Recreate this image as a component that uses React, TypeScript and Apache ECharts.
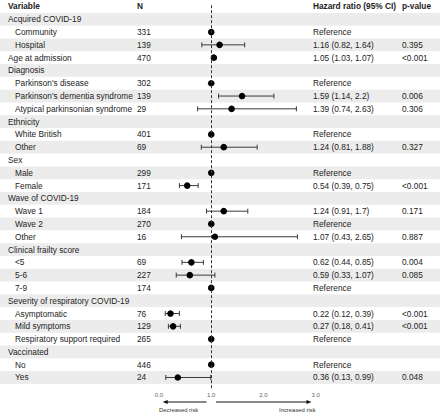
import React, { useEffect, useRef } from "react";
import * as echarts from "echarts";

const headers = ["Variable", "N", "Hazard ratio (95% CI)", "p-value"];
const labels = [
  "Acquired COVID-19", "Community", "Hospital", "Age at admission",
  "Diagnosis", "Parkinson's disease", "Parkinson's dementia syndrome", "Atypical parkinsonian syndrome",
  "Ethnicity", "White British", "Other",
  "Sex", "Male", "Female",
  "Wave of COVID-19", "Wave 1", "Wave 2", "Other",
  "Clinical frailty score", "<5", "5-6", "7-9",
  "Severity of respiratory COVID-19", "Asymptomatic", "Mild symptoms", "Respiratory support required",
  "Vaccinated", "No", "Yes",
];
const indented = [
  false, true, true, false,
  false, true, true, true,
  false, true, true,
  false, true, true,
  false, true, true, true,
  false, true, true, true,
  false, true, true, true,
  false, true, true,
];
const nValues = [
  null, 331, 139, 470,
  null, 302, 139, 29,
  null, 401, 69,
  null, 299, 171,
  null, 184, 270, 16,
  null, 69, 227, 174,
  null, 76, 129, 265,
  null, 446, 24,
];
const hr = [
  null, 1, 1.16, 1.05,
  null, 1, 1.59, 1.39,
  null, 1, 1.24,
  null, 1, 0.54,
  null, 1.24, 1, 1.07,
  null, 0.62, 0.59, 1,
  null, 0.22, 0.27, 1,
  null, 1, 0.36,
];
const lower = [
  null, null, 0.82, 1.03,
  null, null, 1.14, 0.74,
  null, null, 0.81,
  null, null, 0.39,
  null, 0.91, null, 0.43,
  null, 0.44, 0.33, null,
  null, 0.12, 0.18, null,
  null, null, 0.13,
];
const upper = [
  null, null, 1.64, 1.07,
  null, null, 2.2, 2.63,
  null, null, 1.88,
  null, null, 0.75,
  null, 1.7, null, 2.65,
  null, 0.85, 1.07, null,
  null, 0.39, 0.41, null,
  null, null, 0.99,
];
const hrText = [
  "", "Reference", "1.16 (0.82, 1.64)", "1.05 (1.03, 1.07)",
  "", "Reference", "1.59 (1.14, 2.2)", "1.39 (0.74, 2.63)",
  "", "Reference", "1.24 (0.81, 1.88)",
  "", "Reference", "0.54 (0.39, 0.75)",
  "", "1.24 (0.91, 1.7)", "Reference", "1.07 (0.43, 2.65)",
  "", "0.62 (0.44, 0.85)", "0.59 (0.33, 1.07)", "Reference",
  "", "0.22 (0.12, 0.39)", "0.27 (0.18, 0.41)", "Reference",
  "", "Reference", "0.36 (0.13, 0.99)",
];
const pText = [
  "", "", "0.395", "<0.001",
  "", "", "0.006", "0.306",
  "", "", "0.327",
  "", "", "<0.001",
  "", "0.171", "", "0.887",
  "", "0.004", "0.085", "",
  "", "<0.001", "<0.001", "",
  "", "", "0.048",
];
const xTicks = [0, 1, 2, 3];
const arrowLabels = ["Decreased risk", "Increased risk"];

const FONT = "'Liberation Sans', Arial, Helvetica, sans-serif";
const FS = 8.3;
const TXT = "#1c1c1c";
const COL_X = [8, 137, 313, 402];
const INDENT_X = 15;

export default function App() {
  const ref = useRef<HTMLDivElement>(null);
  useEffect(() => {
    if (!ref.current) return;
    const chart = echarts.init(ref.current, null, { renderer: "svg" });
    const rows = labels.map((_, i) => [hr[i] ?? 1, i]);

    const text = (x: number, y: number, t: string, bold = false, align = "left") => ({
      type: "text",
      style: {
        x, y, text: t, fill: TXT, fontSize: FS, fontFamily: FONT,
        fontWeight: bold ? "bold" : "normal", align, verticalAlign: "middle",
      },
      silent: true,
    });

    const option: any = {
      animation: false,
      grid: { left: 159, right: 124.3, top: 5.2, bottom: 26, containLabel: false },
      xAxis: {
        type: "value", min: 0, max: 3, interval: 1,
        axisLine: { show: true, lineStyle: { color: "#333", width: 1 } },
        axisTick: { show: true, length: 2.5, lineStyle: { color: "#333" } },
        axisLabel: {
          show: true, fontSize: 6, color: "#666", fontFamily: FONT, margin: 3,
          formatter: (v: number) => (xTicks.includes(v) ? v.toFixed(1) : ""),
        },
        splitLine: { show: false },
      },
      yAxis: { type: "value", inverse: true, min: -1.1, max: 28.9, show: false },
      series: [
        {
          type: "custom", z: 1, data: rows, clip: false, silent: true,
          renderItem: (params: any, api: any) => {
            const i = api.value(1);
            if (i % 2 !== 0) return { type: "group", children: [] };
            const y = api.coord([0, i])[1];
            const h = api.size([0, 1])[1];
            return {
              type: "rect",
              shape: { x: 0, y: y - h / 2, width: 440, height: h },
              style: { fill: "#ececec" },
              silent: true,
            };
          },
        },
        {
          type: "line", z: 2, data: [], silent: true,
          markLine: {
            silent: true, symbol: "none", label: { show: false },
            lineStyle: { type: [3, 2], color: "#333", width: 1 },
            data: [{ xAxis: 1 }],
          },
        },
        {
          type: "custom", z: 3, data: rows, clip: false, silent: true,
          renderItem: (params: any, api: any) => {
            const i = api.value(1);
            const y = api.coord([0, i])[1];
            const ch: any[] = [];
            ch.push(text(indented[i] ? INDENT_X : COL_X[0], y, labels[i]));
            if (nValues[i] != null) ch.push(text(COL_X[1], y, String(nValues[i])));
            if (hrText[i]) ch.push(text(COL_X[2], y, hrText[i]));
            if (pText[i]) ch.push(text(COL_X[3], y, pText[i]));
            if (lower[i] != null && upper[i] != null) {
              const x1 = api.coord([lower[i], i])[0];
              const x2 = api.coord([upper[i], i])[0];
              const ls = { stroke: "#3a3a3a", lineWidth: 1 };
              ch.push({ type: "line", shape: { x1, y1: y, x2, y2: y }, style: ls });
              ch.push({ type: "line", shape: { x1, y1: y - 2.5, x2: x1, y2: y + 2.5 }, style: ls });
              ch.push({ type: "line", shape: { x1: x2, y1: y - 2.5, x2, y2: y + 2.5 }, style: ls });
            }
            if (hr[i] != null) {
              const cx = api.coord([hr[i], i])[0];
              ch.push({ type: "circle", shape: { cx, cy: y, r: 3.3 }, style: { fill: "#000" } });
            }
            return { type: "group", children: ch };
          },
        },
        {
          type: "custom", z: 4, data: [[1, -1]], clip: false, silent: true,
          renderItem: (params: any, api: any) => {
            const ch: any[] = [];
            const hy = api.coord([0, -1])[1];
            headers.forEach((h, k) => ch.push(text(COL_X[k], hy, h, true)));
            const base = api.coord([0, 28.9])[1];
            const ay = base + 13;
            const ty = base + 21;
            const xa1 = api.coord([0.91, 0])[0];
            const xa2 = api.coord([0.07, 0])[0];
            const xb1 = api.coord([1.09, 0])[0];
            const xb2 = api.coord([2.92, 0])[0];
            const st = { stroke: "#111", lineWidth: 1 };
            ch.push({ type: "line", shape: { x1: xa1, y1: ay, x2: xa2 + 4, y2: ay }, style: st });
            ch.push({ type: "polygon", shape: { points: [[xa2, ay], [xa2 + 5, ay - 2], [xa2 + 5, ay + 2]] }, style: { fill: "#111" } });
            ch.push({ type: "line", shape: { x1: xb1, y1: ay, x2: xb2 - 4, y2: ay }, style: st });
            ch.push({ type: "polygon", shape: { points: [[xb2, ay], [xb2 - 5, ay - 2], [xb2 - 5, ay + 2]] }, style: { fill: "#111" } });
            const x0 = api.coord([0, 0])[0];
            const x3 = api.coord([3, 0])[0];
            ch.push({ type: "text", style: { x: x0, y: ty, text: arrowLabels[0], fill: "#333", fontSize: 5.9, fontFamily: FONT, align: "left", verticalAlign: "middle" } });
            ch.push({ type: "text", style: { x: x3, y: ty, text: arrowLabels[1], fill: "#333", fontSize: 5.9, fontFamily: FONT, align: "right", verticalAlign: "middle" } });
            return { type: "group", children: ch };
          },
        },
      ],
    };
    chart.setOption(option);
    return () => chart.dispose();
  }, []);
  return (
    <div
      ref={ref}
      style={{ position: "fixed", left: 0, top: 0, width: 440, height: 415, background: "#fff" }}
    />
  );
}
